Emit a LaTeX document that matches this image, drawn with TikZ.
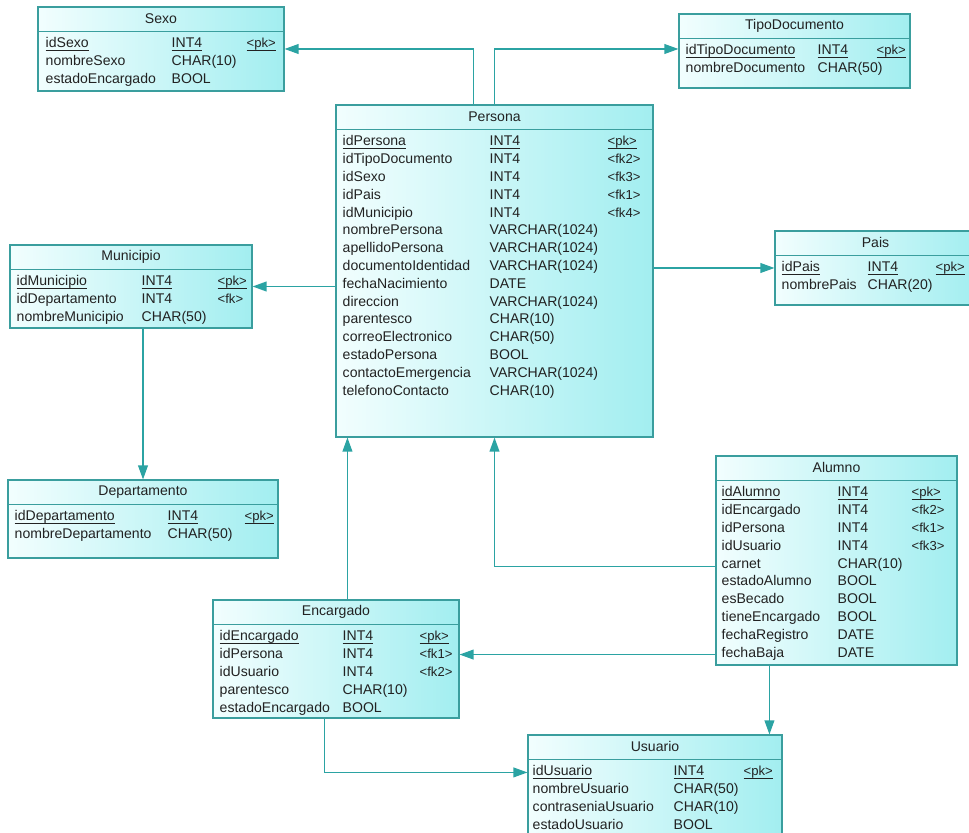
\documentclass[tikz,border=0pt]{standalone}
\usepackage{fontspec}
\setmainfont{Liberation Sans}
\usetikzlibrary{arrows.meta,positioning,calc,fit}
\definecolor{edge}{HTML}{3A9E9E}
\definecolor{lnk}{HTML}{2BA3A3}
\definecolor{pale}{HTML}{F2FEFE}
\definecolor{aqua}{HTML}{A2EEF0}
\definecolor{ink}{HTML}{222222}
\newcommand{\undl}[1]{\setbox0=\hbox{#1}\rlap{\rule[-1.7pt]{\wd0}{0.55pt}}\box0}

\begin{document}
\begin{tikzpicture}[
  x=0.025cm, y=-0.025cm,
  tbl/.style={draw=edge, line width=0.8pt, left color=pale, right color=aqua, inner sep=0pt},
  sep/.style={draw=edge, line width=0.8pt},
  ttl/.style={font=\fontsize{10}{12}\selectfont, text=ink, inner sep=0pt},
  fld/.style={anchor=base west, font=\fontsize{10}{12}\selectfont, text=ink, inner sep=0pt},
  fk/.style={anchor=base west, font=\fontsize{9.3}{11}\selectfont, text=ink, inner sep=0pt},
  arr/.style={-{Triangle[length=10pt, width=7pt]}, draw=lnk, line width=0.9pt},
]
\clip (0,0) rectangle (969,833);
\fill[white] (0,0) rectangle (969,833);

% Sexo
\node[tbl, fit={(38,7) (284,91)}] (sexo) {};
\draw[sep] ($(sexo.north west)+(0,25)$) -- ($(sexo.north east)+(0,25)$);
\node[ttl] (sexoT) at ($(sexo.north)+(0,12.5)$) {Sexo};
\foreach \nm/\ty/\ky [count=\i, evaluate=\i as \ry using 41.5+(\i-1)*17.8] in
  {idSexo/INT4/<pk>, nombreSexo/CHAR(10)/, estadoEncargado/BOOL/} {
  \node[fld] (sexo-a\i) at ($(sexo.north west)+(8,\ry)$) {\ifnum\i=1 \undl{\nm}\else\nm\fi};
  \node[fld] (sexo-b\i) at ($(sexo.north west)+(134,\ry)$) {\ifnum\i=1 \undl{\ty}\else\ty\fi};
  \node[fk]  (sexo-c\i) at ($(sexo.north west)+(209,\ry)$) {\ifnum\i=1 \undl{\ky}\else\ky\fi};
}

% TipoDocumento
\node[tbl, fit={(679,14) (910,88)}] (tipo) {};
\draw[sep] ($(tipo.north west)+(0,25)$) -- ($(tipo.north east)+(0,25)$);
\node[ttl] (tipoT) at ($(tipo.north)+(0,12.5)$) {TipoDocumento};
\foreach \nm/\ty/\ky [count=\i, evaluate=\i as \ry using 41.5+(\i-1)*17.8] in
  {idTipoDocumento/INT4/<pk>, nombreDocumento/CHAR(50)/} {
  \node[fld] (tipo-a\i) at ($(tipo.north west)+(7,\ry)$) {\ifnum\i=1 \undl{\nm}\else\nm\fi};
  \node[fld] (tipo-b\i) at ($(tipo.north west)+(139,\ry)$) {\ifnum\i=1 \undl{\ty}\else\ty\fi};
  \node[fk]  (tipo-c\i) at ($(tipo.north west)+(198,\ry)$) {\ifnum\i=1 \undl{\ky}\else\ky\fi};
}

% Persona
\node[tbl, fit={(336,105) (653,437)}] (persona) {};
\draw[sep] ($(persona.north west)+(0,25)$) -- ($(persona.north east)+(0,25)$);
\node[ttl] (personaT) at ($(persona.north)+(0,12.5)$) {Persona};
\foreach \nm/\ty/\ky [count=\i, evaluate=\i as \ry using 41.5+(\i-1)*17.8] in
  {idPersona/INT4/<pk>, idTipoDocumento/INT4/<fk2>, idSexo/INT4/<fk3>, idPais/INT4/<fk1>,
   idMunicipio/INT4/<fk4>, nombrePersona/VARCHAR(1024)/, apellidoPersona/VARCHAR(1024)/,
   documentoIdentidad/VARCHAR(1024)/, fechaNacimiento/DATE/, direccion/VARCHAR(1024)/,
   parentesco/CHAR(10)/, correoElectronico/CHAR(50)/, estadoPersona/BOOL/,
   contactoEmergencia/VARCHAR(1024)/, telefonoContacto/CHAR(10)/} {
  \node[fld] (persona-a\i) at ($(persona.north west)+(7,\ry)$) {\ifnum\i=1 \undl{\nm}\else\nm\fi};
  \node[fld] (persona-b\i) at ($(persona.north west)+(154,\ry)$) {\ifnum\i=1 \undl{\ty}\else\ty\fi};
  \node[fk]  (persona-c\i) at ($(persona.north west)+(272,\ry)$) {\ifnum\i=1 \undl{\ky}\else\ky\fi};
}

% Municipio
\node[tbl, fit={(10,245) (252,328)}] (municipio) {};
\draw[sep] ($(municipio.north west)+(0,25)$) -- ($(municipio.north east)+(0,25)$);
\node[ttl] (municipioT) at ($(municipio.north)+(0,12.5)$) {Municipio};
\foreach \nm/\ty/\ky [count=\i, evaluate=\i as \ry using 41.5+(\i-1)*17.8] in
  {idMunicipio/INT4/<pk>, idDepartamento/INT4/<fk>, nombreMunicipio/CHAR(50)/} {
  \node[fld] (municipio-a\i) at ($(municipio.north west)+(7,\ry)$) {\ifnum\i=1 \undl{\nm}\else\nm\fi};
  \node[fld] (municipio-b\i) at ($(municipio.north west)+(132,\ry)$) {\ifnum\i=1 \undl{\ty}\else\ty\fi};
  \node[fk]  (municipio-c\i) at ($(municipio.north west)+(208,\ry)$) {\ifnum\i=1 \undl{\ky}\else\ky\fi};
}

% Departamento
\node[tbl, fit={(8,480) (278,558)}] (departamento) {};
\draw[sep] ($(departamento.north west)+(0,25)$) -- ($(departamento.north east)+(0,25)$);
\node[ttl] (departamentoT) at ($(departamento.north)+(0,12.5)$) {Departamento};
\foreach \nm/\ty/\ky [count=\i, evaluate=\i as \ry using 41.5+(\i-1)*17.8] in
  {idDepartamento/INT4/<pk>, nombreDepartamento/CHAR(50)/} {
  \node[fld] (departamento-a\i) at ($(departamento.north west)+(7,\ry)$) {\ifnum\i=1 \undl{\nm}\else\nm\fi};
  \node[fld] (departamento-b\i) at ($(departamento.north west)+(160,\ry)$) {\ifnum\i=1 \undl{\ty}\else\ty\fi};
  \node[fk]  (departamento-c\i) at ($(departamento.north west)+(237,\ry)$) {\ifnum\i=1 \undl{\ky}\else\ky\fi};
}

% Pais
\node[tbl, fit={(775,231) (976,305)}] (pais) {};
\draw[sep] ($(pais.north west)+(0,25)$) -- ($(pais.north east)+(0,25)$);
\node[ttl] (paisT) at ($(pais.north)+(0,12.5)$) {Pais};
\foreach \nm/\ty/\ky [count=\i, evaluate=\i as \ry using 41.5+(\i-1)*17.8] in
  {idPais/INT4/<pk>, nombrePais/CHAR(20)/} {
  \node[fld] (pais-a\i) at ($(pais.north west)+(7,\ry)$) {\ifnum\i=1 \undl{\nm}\else\nm\fi};
  \node[fld] (pais-b\i) at ($(pais.north west)+(93,\ry)$) {\ifnum\i=1 \undl{\ty}\else\ty\fi};
  \node[fk]  (pais-c\i) at ($(pais.north west)+(161,\ry)$) {\ifnum\i=1 \undl{\ky}\else\ky\fi};
}

% Alumno
\node[tbl, fit={(716,456) (957,665)}] (alumno) {};
\draw[sep] ($(alumno.north west)+(0,25)$) -- ($(alumno.north east)+(0,25)$);
\node[ttl] (alumnoT) at ($(alumno.north)+(0,12.5)$) {Alumno};
\foreach \nm/\ty/\ky [count=\i, evaluate=\i as \ry using 41.5+(\i-1)*17.8] in
  {idAlumno/INT4/<pk>, idEncargado/INT4/<fk2>, idPersona/INT4/<fk1>, idUsuario/INT4/<fk3>,
   carnet/CHAR(10)/, estadoAlumno/BOOL/, esBecado/BOOL/, tieneEncargado/BOOL/,
   fechaRegistro/DATE/, fechaBaja/DATE/} {
  \node[fld] (alumno-a\i) at ($(alumno.north west)+(6,\ry)$) {\ifnum\i=1 \undl{\nm}\else\nm\fi};
  \node[fld] (alumno-b\i) at ($(alumno.north west)+(122,\ry)$) {\ifnum\i=1 \undl{\ty}\else\ty\fi};
  \node[fk]  (alumno-c\i) at ($(alumno.north west)+(196,\ry)$) {\ifnum\i=1 \undl{\ky}\else\ky\fi};
}

% Encargado
\node[tbl, fit={(213,600) (459,718)}] (encargado) {};
\draw[sep] ($(encargado.north west)+(0,25)$) -- ($(encargado.north east)+(0,25)$);
\node[ttl] (encargadoT) at ($(encargado.north)+(0,12.5)$) {Encargado};
\foreach \nm/\ty/\ky [count=\i, evaluate=\i as \ry using 41.5+(\i-1)*17.8] in
  {idEncargado/INT4/<pk>, idPersona/INT4/<fk1>, idUsuario/INT4/<fk2>,
   parentesco/CHAR(10)/, estadoEncargado/BOOL/} {
  \node[fld] (encargado-a\i) at ($(encargado.north west)+(7,\ry)$) {\ifnum\i=1 \undl{\nm}\else\nm\fi};
  \node[fld] (encargado-b\i) at ($(encargado.north west)+(130,\ry)$) {\ifnum\i=1 \undl{\ty}\else\ty\fi};
  \node[fk]  (encargado-c\i) at ($(encargado.north west)+(207,\ry)$) {\ifnum\i=1 \undl{\ky}\else\ky\fi};
}

% Usuario
\node[tbl, fit={(528,735) (782,840)}] (usuario) {};
\draw[sep] ($(usuario.north west)+(0,25)$) -- ($(usuario.north east)+(0,25)$);
\node[ttl] (usuarioT) at ($(usuario.north)+(0,12.5)$) {Usuario};
\foreach \nm/\ty/\ky [count=\i, evaluate=\i as \ry using 41.5+(\i-1)*17.8] in
  {idUsuario/INT4/<pk>, nombreUsuario/CHAR(50)/, contraseniaUsuario/CHAR(10)/, estadoUsuario/BOOL/} {
  \node[fld] (usuario-a\i) at ($(usuario.north west)+(5,\ry)$) {\ifnum\i=1 \undl{\nm}\else\nm\fi};
  \node[fld] (usuario-b\i) at ($(usuario.north west)+(146,\ry)$) {\ifnum\i=1 \undl{\ty}\else\ty\fi};
  \node[fk]  (usuario-c\i) at ($(usuario.north west)+(216,\ry)$) {\ifnum\i=1 \undl{\ky}\else\ky\fi};
}

% references
\draw[arr] ($(persona.north)+(-21,0)$) |- (sexo.east);
\draw[arr] (persona.north) |- (tipo.west |- sexo.east);
\draw[arr] (persona.west |- municipio.east) -- (municipio.east);
\draw[arr] (persona.east |- pais.west) -- (pais.west);
\draw[arr] (departamento.north |- municipio.south) -- (departamento.north);
\draw[arr] ($(alumno.west)+(0,6)$) -| (persona.south);
\draw[arr] ($(encargado.north west)+(135,0)$) coordinate (e2p) -- (e2p |- persona.south);
\draw[arr] ($(alumno.south west)+(0,-11)$) coordinate (a2e) -- (a2e -| encargado.east);
\draw[arr] ($(alumno.south west)+(54,0)$) coordinate (a2u) -- (a2u |- usuario.north);
\draw[arr] ($(encargado.south west)+(112,0)$) |- ($(usuario.north west)+(0,38)$);
\end{tikzpicture}
\end{document}
